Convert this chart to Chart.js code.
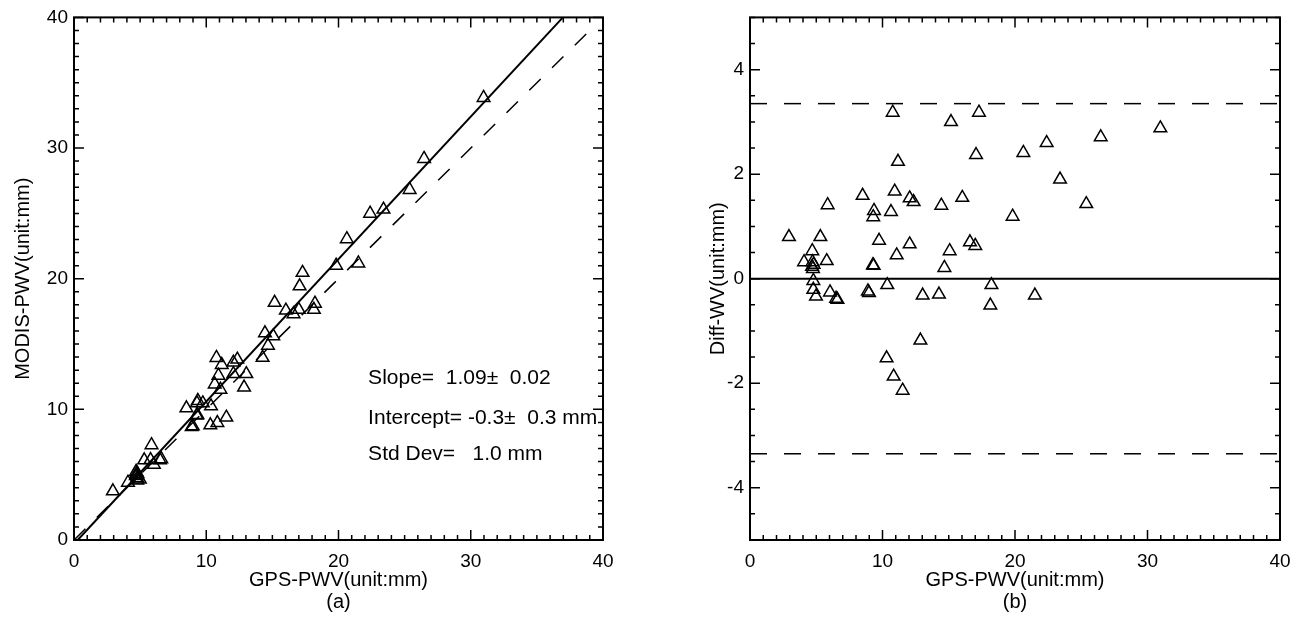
<!DOCTYPE html>
<html>
<head>
<meta charset="utf-8">
<script src="https://cdn.jsdelivr.net/npm/chart.js@4.4.1/dist/chart.umd.min.js"></script>
<style>
html, body { margin: 0; padding: 0; background: #fff; }
#wrapA { position: absolute; left: 0; top: 0; width: 650px; height: 618px; }
#wrapB { position: absolute; left: 650px; top: 0; width: 655px; height: 618px; }
</style>
</head>
<body>
<div id="wrapA"><canvas id="chartA" width="650" height="618"></canvas></div>
<div id="wrapB"><canvas id="chartB" width="655" height="618"></canvas></div>
<script>
// GPS PWV (x, both panels), mm
var gpsPwv = [2.94, 4.08, 4.70, 4.72, 4.80, 4.68, 4.75, 4.78, 4.78, 4.98,
              5.31, 5.79, 5.86, 6.04, 6.50, 6.60, 8.50, 8.90, 8.98, 9.28,
              9.33, 9.36, 9.30, 9.74, 10.31, 10.36, 10.64, 10.77, 10.84, 10.92,
              11.07, 11.17, 11.52, 12.05, 12.05, 12.35, 12.86, 13.03, 14.26, 14.44,
              14.67, 15.07, 15.17, 16.02, 16.60, 17.00, 17.06, 17.28, 18.14, 18.22,
              19.82, 20.63, 21.50, 22.39, 23.40, 25.38, 26.47, 30.97];
// MODIS PWV (panel a), mm
var modisPwv = [3.74, 4.40, 5.23, 5.04, 5.07, 4.91, 4.94, 4.74, 4.57, 4.64,
                6.11, 6.13, 7.27, 5.78, 6.12, 6.20, 10.09, 8.66, 8.71, 9.54,
                9.58, 10.66, 10.48, 10.47, 8.79, 10.24, 11.92, 13.95, 8.97, 12.59,
                11.52, 13.41, 9.38, 13.59, 12.71, 13.82, 11.68, 12.71, 13.96, 15.84,
                14.88, 15.60, 18.17, 17.57, 17.30, 17.63, 19.43, 20.46, 17.63, 18.10,
                21.01, 23.04, 21.18, 24.99, 25.30, 26.81, 29.18, 33.85];
// MODIS - GPS difference (panel b), mm
var diffWv = [0.80, 0.32, 0.53, 0.32, 0.27, 0.23, 0.19, -0.04, -0.21, -0.34,
              0.80, 0.34, 1.41, -0.26, -0.38, -0.40, 1.59, -0.24, -0.27, 0.26,
              0.25, 1.30, 1.18, 0.73, -1.52, -0.12, 1.28, 3.18, -1.87, 1.67,
              0.45, 2.24, -2.14, 1.54, 0.66, 1.47, -1.18, -0.32, -0.30, 1.40,
              0.21, 0.53, 3.00, 1.55, 0.70, 0.63, 2.37, 3.18, -0.51, -0.12,
              1.19, 2.41, -0.32, 2.60, 1.90, 1.43, 2.71, 2.88];

// fitted line and 1:1 line (panel a)
var fitX = [0.28, 36.97];
var fitY = [0, 40];
var oneToOneX = [0, 39];
var oneToOneY = [0, 39];

// zero line and +/- limits (panel b)
var limitX = [0, 40];
var zeroY = [0, 0];
var upperY = [3.35, 3.35];
var lowerY = [-3.35, -3.35];

var xTicks = [0, 10, 20, 30, 40];
var yTicksA = [0, 10, 20, 30, 40];
var yTicksB = [-4, -2, 0, 2, 4];

var noteLines = ['Slope=  1.09\u00b1  0.02', 'Intercept= -0.3\u00b1  0.3 mm', 'Std Dev=   1.0 mm'];

var fam = "'Liberation Sans', Arial, Helvetica, sans-serif";
Chart.defaults.font.family = fam;
Chart.defaults.color = '#000';

function pts(xs, ys) {
    return xs.map(function (v, i) { return { x: v, y: ys[i] }; });
}

function isMajor(v, step) {
    var r = v / step;
    return Math.abs(r - Math.round(r)) < 1e-6;
}

// IDL style box with inward ticks on all four sides
var boxTicks = {
    id: 'boxTicks',
    afterDatasetsDraw: function (chart, args, opts) {
        var ctx = chart.ctx, a = chart.chartArea;
        var sx = chart.scales.x, sy = chart.scales.y;
        ctx.save();
        ctx.strokeStyle = '#000';
        ctx.lineWidth = 1.5;
        ctx.beginPath();
        var n = Math.round((sx.max - sx.min) / opts.xMinor);
        for (var i = 0; i <= n; i++) {
            var v = sx.min + i * opts.xMinor;
            var px = sx.getPixelForValue(v);
            var len = isMajor(v, opts.xMajor) ? 10 : 5;
            ctx.moveTo(px, a.bottom); ctx.lineTo(px, a.bottom - len);
            ctx.moveTo(px, a.top); ctx.lineTo(px, a.top + len);
        }
        n = Math.round((sy.max - sy.min) / opts.yMinor);
        for (var j = 0; j <= n; j++) {
            var w = sy.min + j * opts.yMinor;
            var py = sy.getPixelForValue(w);
            var l2 = isMajor(w, opts.yMajor) ? 10 : 5;
            ctx.moveTo(a.left, py); ctx.lineTo(a.left + l2, py);
            ctx.moveTo(a.right, py); ctx.lineTo(a.right - l2, py);
        }
        ctx.stroke();
        ctx.lineWidth = 2;
        ctx.strokeRect(a.left, a.top, a.right - a.left, a.bottom - a.top);

        if (opts.notes) {
            ctx.fillStyle = '#000';
            ctx.font = '21px ' + fam;
            ctx.textBaseline = 'middle';
            ctx.textAlign = 'left';
            var nx = sx.getPixelForValue(opts.notes.x);
            opts.notes.lines.forEach(function (t, k) {
                ctx.fillText(t, nx, sy.getPixelForValue(opts.notes.y[k]));
            });
        }
        ctx.restore();
    }
};

function axis(min, max, ticks, title, width, height, titlePad) {
    return {
        type: 'linear',
        min: min,
        max: max,
        afterBuildTicks: function (s) { s.ticks = ticks.map(function (v) { return { value: v }; }); },
        grid: { display: false, drawTicks: false },
        border: { display: false },
        ticks: {
            font: { size: 19 },
            padding: width ? 6 : 10,
            callback: function (v) { return String(v); }
        },
        title: {
            display: true,
            text: title,
            font: { size: 20, lineHeight: 1.1 },
            padding: titlePad
        },
        afterFit: function (s) {
            if (width) s.width = width;
            if (height) s.height = height;
        }
    };
}

var markerStyle = {
    pointStyle: 'triangle',
    pointRadius: 7.3,
    pointHoverRadius: 7.3,
    pointBorderWidth: 1.5,
    pointBorderColor: '#000',
    pointBackgroundColor: 'rgba(0,0,0,0)',
    showLine: false
};

var chartA = new Chart(document.getElementById('chartA').getContext('2d'), {
    type: 'scatter',
    data: {
        datasets: [
            Object.assign({ label: 'points', data: pts(gpsPwv, modisPwv) }, markerStyle),
            {
                type: 'line', label: 'fit', data: pts(fitX, fitY),
                borderColor: '#000', borderWidth: 2, pointRadius: 0, fill: false
            },
            {
                type: 'line', label: '1:1', data: pts(oneToOneX, oneToOneY),
                borderColor: '#000', borderWidth: 1.5, borderDash: [16, 16], pointRadius: 0, fill: false
            }
        ]
    },
    options: {
        responsive: false,
        animation: false,
        devicePixelRatio: 1,
        layout: { padding: { top: 14, right: 47, bottom: 0, left: 0 } },
        plugins: {
            legend: { display: false },
            tooltip: { enabled: false },
            boxTicks: {
                xMinor: 1, xMajor: 10, yMinor: 1, yMajor: 10,
                notes: { x: 22.24, y: [12.4, 9.35, 6.6], lines: noteLines }
            }
        },
        scales: {
            x: axis(0, 40, xTicks, ['GPS-PWV(unit:mm)', '(a)'], 0, 78, { top: 0, bottom: 5 }),
            y: axis(0, 40, yTicksA, 'MODIS-PWV(unit:mm)', 74, 0, { top: 12, bottom: 0 })
        }
    },
    plugins: [boxTicks]
});

var chartB = new Chart(document.getElementById('chartB').getContext('2d'), {
    type: 'scatter',
    data: {
        datasets: [
            Object.assign({ label: 'diff', data: pts(gpsPwv, diffWv) }, markerStyle),
            {
                type: 'line', label: 'zero', data: pts(limitX, zeroY),
                borderColor: '#000', borderWidth: 2, pointRadius: 0, fill: false
            },
            {
                type: 'line', label: 'upper', data: pts(limitX, upperY),
                borderColor: '#000', borderWidth: 1.5, borderDash: [17, 17], pointRadius: 0, fill: false
            },
            {
                type: 'line', label: 'lower', data: pts(limitX, lowerY),
                borderColor: '#000', borderWidth: 1.5, borderDash: [17, 17], pointRadius: 0, fill: false
            }
        ]
    },
    options: {
        responsive: false,
        animation: false,
        devicePixelRatio: 1,
        layout: { padding: { top: 14, right: 25, bottom: 0, left: 0 } },
        plugins: {
            legend: { display: false },
            tooltip: { enabled: false },
            boxTicks: { xMinor: 1, xMajor: 10, yMinor: 0.5, yMajor: 2 }
        },
        scales: {
            x: axis(0, 40, xTicks, ['GPS-PWV(unit:mm)', '(b)'], 0, 78, { top: 0, bottom: 5 }),
            y: axis(-5, 5, yTicksB, 'Diff-WV(unit:mm)', 100, 0, { top: 57, bottom: 0 })
        }
    },
    plugins: [boxTicks]
});
</script>
</body>
</html>
